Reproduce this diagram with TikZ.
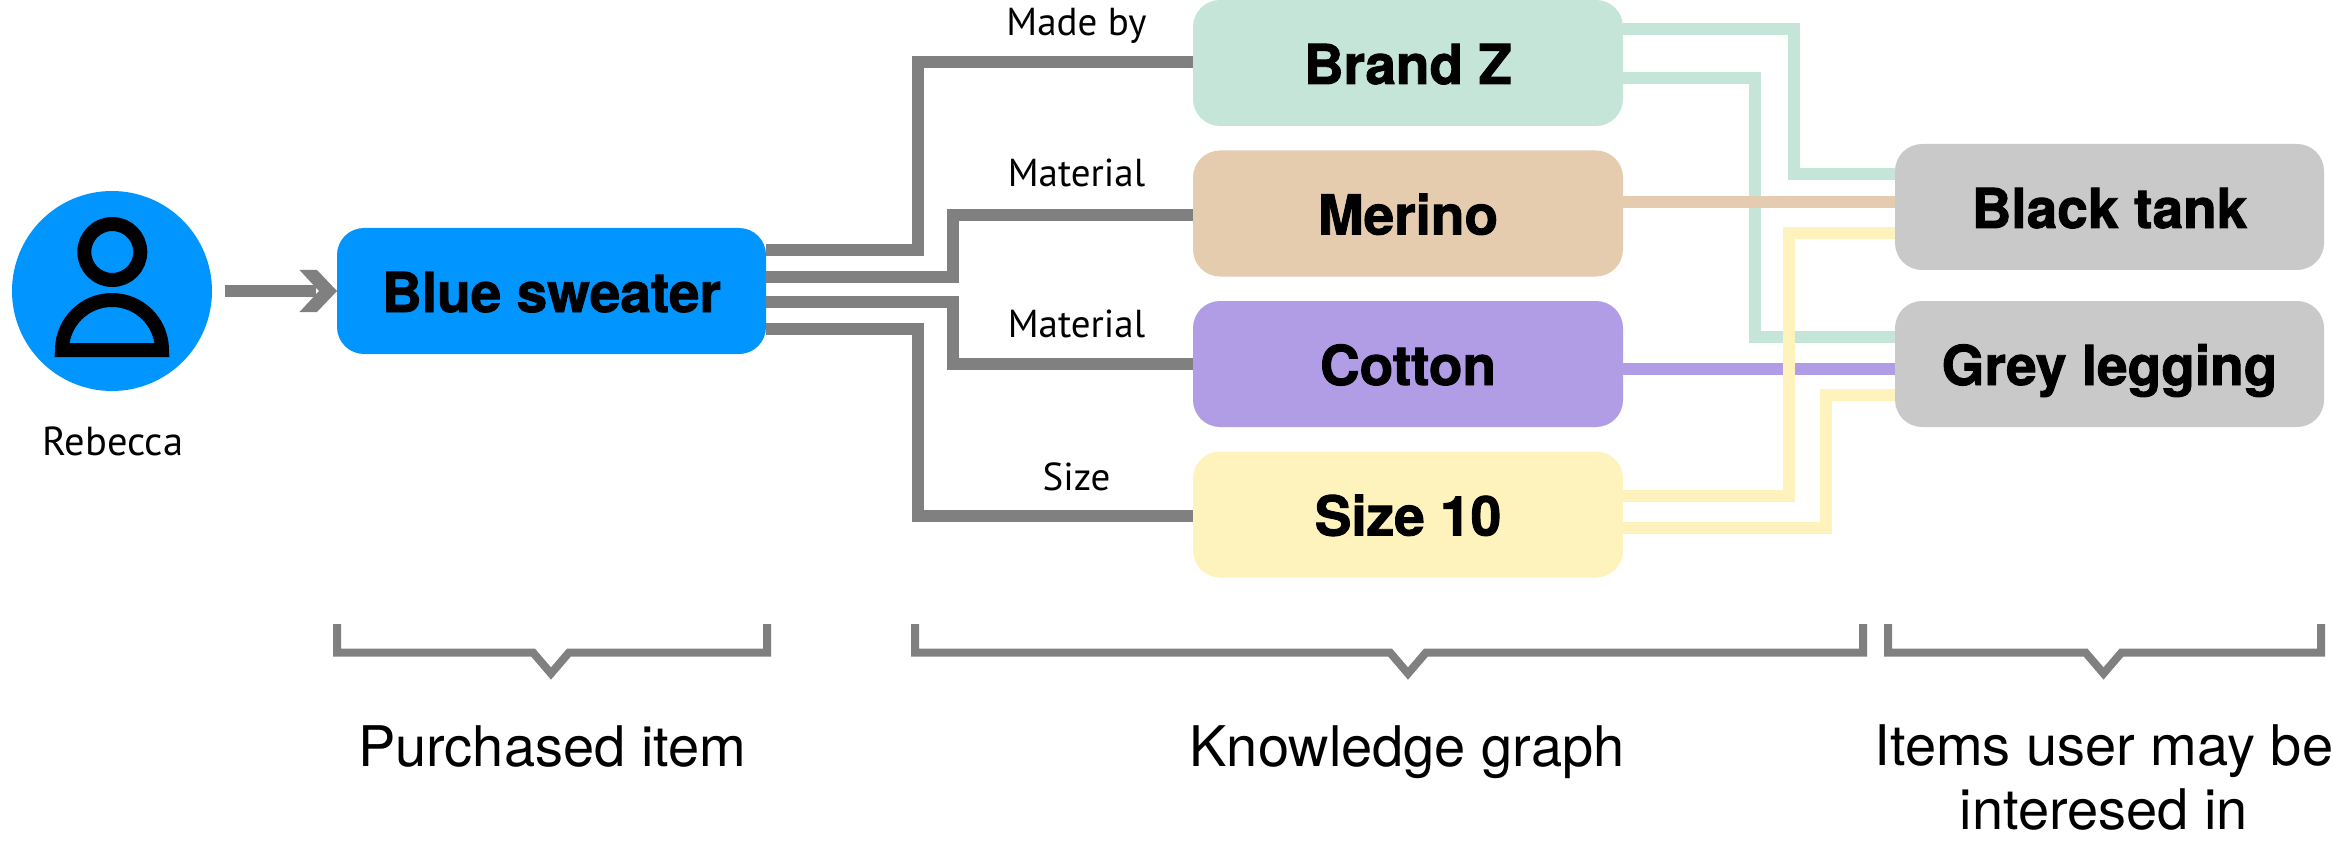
\documentclass[tikz,border=0pt]{standalone}
\usepackage{fontspec}
\setmainfont{TeX Gyre Heros}
\newfontfamily\labelfont{PT Sans}
\newfontfamily\boxfont{TeX Gyre Heros}[BoldFeatures={FakeBold=1.6}]
\usetikzlibrary{arrows.meta}
\definecolor{cblue}{HTML}{0095FF}
\definecolor{cgreen}{HTML}{C5E5D9}
\definecolor{ctan}{HTML}{E5CCAE}
\definecolor{cpurple}{HTML}{B19DE5}
\definecolor{cyellow}{HTML}{FFF3BD}
\definecolor{cgreybox}{HTML}{C9C9C9}
\definecolor{cline}{HTML}{808080}
\pgfdeclarearrow{
  name=Chevron,
  setup code={
    \pgfarrowssettipend{37.5pt}
    \pgfarrowssetlineend{16pt}
    \pgfarrowssetbackend{0pt}
    \pgfarrowssetvisualbackend{0pt}
    \pgfarrowshullpoint{37.5pt}{0pt}
    \pgfarrowshullpoint{0pt}{21pt}
    \pgfarrowshullpoint{0pt}{-21pt}
  },
  drawing code={
    \pgfpathmoveto{\pgfqpoint{37.5pt}{0pt}}
    \pgfpathlineto{\pgfqpoint{17.5pt}{21pt}}
    \pgfpathlineto{\pgfqpoint{0pt}{21pt}}
    \pgfpathlineto{\pgfqpoint{19.5pt}{0pt}}
    \pgfpathlineto{\pgfqpoint{0pt}{-21pt}}
    \pgfpathlineto{\pgfqpoint{17.5pt}{-21pt}}
    \pgfpathclose
    \pgfusepathqfill
  }
}
\tikzset{
  itembox/.style={rectangle,rounded corners=27pt,draw=none,inner sep=0pt,outer sep=0pt,
    minimum width=#1,minimum height=126pt,text height=42pt,text depth=0pt,
    font=\boxfont\fontsize{55}{55}\selectfont\bfseries},
  link/.style={line width=12pt,line cap=butt,line join=miter,miter limit=10},
  edgelabel/.style={inner sep=0pt,outer sep=0pt,anchor=base,font=\labelfont\fontsize{39}{39}\selectfont},
  brace/.style={line width=8pt,draw=cline,line join=miter,miter limit=10},
  caption/.style={inner sep=0pt,outer sep=0pt,anchor=base,align=center,
    font=\fontsize{56}{64}\selectfont}
}
\begin{document}
\begin{tikzpicture}[x=1pt,y=-1pt]
\useasboundingbox[fill=white] (0,0) rectangle (2333,842);
% boxes
\node[itembox=429pt,fill=cblue] (blue) at (551.5,291) {Blue sweater};
\node[itembox=430pt,fill=cgreen] (brand) at (1408,63) {Brand Z};
\node[itembox=430pt,fill=ctan] (merino) at (1408,213.5) {Merino};
\node[itembox=430pt,fill=cpurple] (cotton) at (1408,364) {Cotton};
\node[itembox=430pt,fill=cyellow] (size) at (1408,514.5) {Size 10};
\node[itembox=429pt,fill=cgreybox] (tank) at (2109.5,207) {Black tank};
\node[itembox=429pt,fill=cgreybox] (legging) at (2109.5,364) {Grey legging};
% person
\node[circle,fill=cblue,minimum size=200pt,inner sep=0pt,outer sep=0pt] (rebecca) at (112,291) {};
\draw[line width=14pt] (112.3,252) circle (28pt);
\draw[line width=14pt,line join=miter] (62,350) -- (162,350) .. controls (162,322.4) and (139.6,300) .. (112,300) .. controls (84.4,300) and (62,322.4) .. (62,350) -- cycle;
\node[edgelabel,font=\labelfont\fontsize{40.5}{40.5}\selectfont] (rebeccatext) at (113,455) {Rebecca};
% arrow
\coordinate (astart) at (224.5,291);
\draw[link,draw=cline,-{Chevron}] (astart) -- (blue.west);
% grey links
\draw[link,draw=cline] (blue.east |- 0,250.5) -- (918,250.5) -- (918,62.5) -- (brand.west |- 0,62.5);
\draw[link,draw=cline] (blue.east |- 0,277) -- (953,277) -- (953,215.5) -- (merino.west |- 0,215.5);
\draw[link,draw=cline] (blue.east |- 0,302) -- (953,302) -- (953,364) -- (cotton.west |- 0,364);
\draw[link,draw=cline] (blue.east |- 0,329) -- (918,329) -- (918,516) -- (size.west |- 0,516);
% coloured links
\draw[link,draw=cgreen] (brand.east |- 0,29) -- (1794,29) -- (1794,174) -- (tank.west |- 0,174);
\draw[link,draw=cgreen] (brand.east |- 0,78.5) -- (1755,78.5) -- (1755,337) -- (legging.west |- 0,337);
\draw[link,draw=ctan] (merino.east |- 0,202.5) -- (tank.west |- 0,202.5);
\draw[link,draw=cpurple] (cotton.east |- 0,369) -- (legging.west |- 0,369);
\draw[link,draw=cyellow] (size.east |- 0,496) -- (1789,496) -- (1789,233.5) -- (tank.west |- 0,233.5);
\draw[link,draw=cyellow] (size.east |- 0,528) -- (1826,528) -- (1826,395) -- (legging.west |- 0,395);
% edge labels
\node[edgelabel] (l1) at (1076.5,36) {Made by};
\node[edgelabel] (l2) at (1076.5,186.5) {Material};
\node[edgelabel] (l3) at (1076.5,337) {Material};
\node[edgelabel] (l4) at (1076.5,490) {Size};
% brackets
\draw[brace] (337,624) -- (337,652.5) -- (533,652.5) -- (551,673.5) -- (569,652.5) -- (767,652.5) -- (767,624);
\draw[brace] (915,624) -- (915,652.5) -- (1390,652.5) -- (1408,673.5) -- (1426,652.5) -- (1863,652.5) -- (1863,624);
\draw[brace] (1888,624) -- (1888,652.5) -- (2085.5,652.5) -- (2103.5,673.5) -- (2121.5,652.5) -- (2321,652.5) -- (2321,624);
% captions
\node[caption] (c1) at (552,766) {Purchased item};
\node[caption] (c2) at (1407,766) {Knowledge graph};
\node[caption] (c3) at (2104,829) {Items user may be\\interesed in};
\end{tikzpicture}
\end{document}
